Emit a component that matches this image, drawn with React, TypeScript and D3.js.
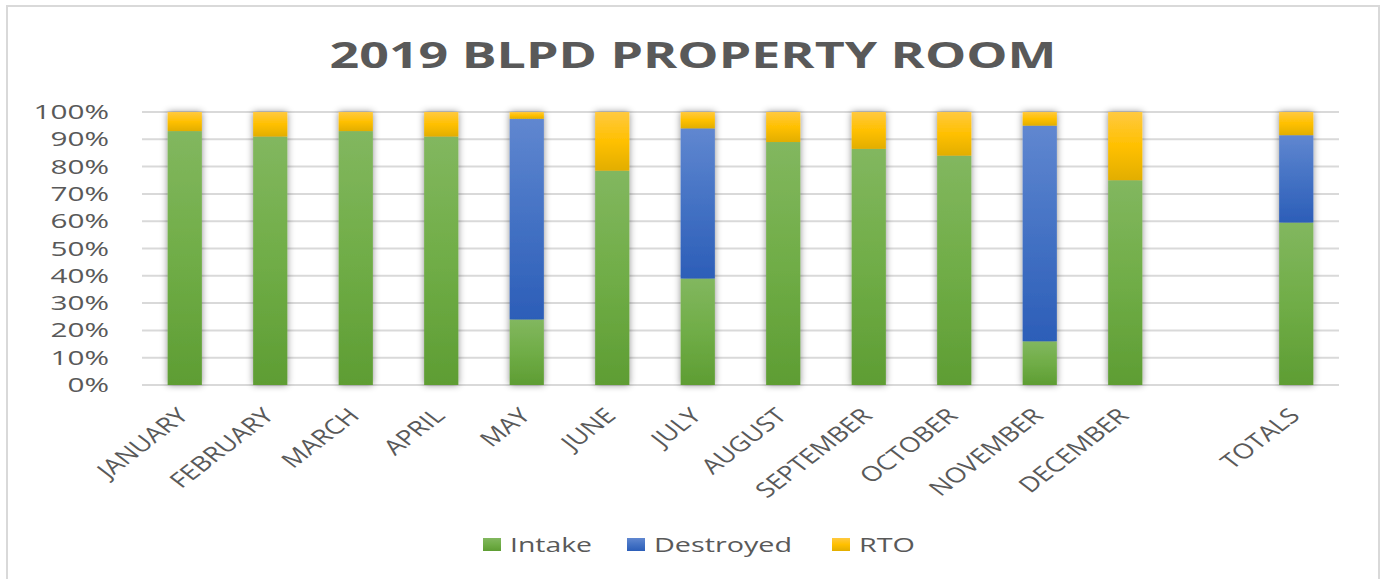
import React from 'react';
import * as d3 from 'd3';

const categories = ['JANUARY', 'FEBRUARY', 'MARCH', 'APRIL', 'MAY', 'JUNE', 'JULY', 'AUGUST', 'SEPTEMBER', 'OCTOBER', 'NOVEMBER', 'DECEMBER', '', 'TOTALS'];
const intake = [93, 91, 93, 91, 24, 78.5, 39, 89, 86.5, 84, 16, 75, 0, 59.5];
const destroyed = [0, 0, 0, 0, 73.5, 0, 55, 0, 0, 0, 79, 0, 0, 32];
const rto = [7, 9, 7, 9, 2.5, 21.5, 6, 11, 13.5, 16, 5, 25, 0, 8.5];
const yTicks = [0, 10, 20, 30, 40, 50, 60, 70, 80, 90, 100];
const seriesNames = ['Intake', 'Destroyed', 'RTO'];

const W = 1381;
const H = 579;
const TEXT = '#595959';
const FONT = '"Open Sans", sans-serif';

const grads: Record<string, [string, string, string]> = {
	Intake: ['#82b75f', '#70ad47', '#5e9d33'],
	Destroyed: ['#6087d0', '#4472c4', '#2c5eb8'],
	RTO: ['#ffc940', '#ffc000', '#e2ae00'],
};

// legend placement
const legend = [
	{ s: 'Intake', x: 483, len: 82 },
	{ s: 'Destroyed', x: 627, len: 138 },
	{ s: 'RTO', x: 832, len: 56 },
];

export default function App() {
	const rows = categories.map((c, i) => ({ cat: c, Intake: intake[i], Destroyed: destroyed[i], RTO: rto[i] }));
	const stack = d3.stack<any>().keys(seriesNames)(rows);

	const key = (i: number) => categories[i] || 'gap' + i;
	const x = d3.scaleBand().domain(categories.map((c, i) => key(i))).range([142, 1339]).paddingInner(0.6).paddingOuter(0.3);
	const y = d3.scaleLinear().domain([0, 100]).range([385, 112]);

	return (
		<svg width={W} height={H} style={{ position: 'absolute', left: 0, top: 0, background: '#fff' }}>
			<defs>
				{seriesNames.map(s => (
					<linearGradient key={s} id={'g-' + s} x1="0" y1="0" x2="0" y2="1">
						<stop offset="0" stopColor={grads[s][0]} />
						<stop offset="0.5" stopColor={grads[s][1]} />
						<stop offset="1" stopColor={grads[s][2]} />
					</linearGradient>
				))}
				<filter id="shadow" x="-40%" y="-5%" width="180%" height="110%">
					<feDropShadow dx="0" dy="0" stdDeviation="3.5" floodColor="#000" floodOpacity="0.45" />
				</filter>
			</defs>

			<rect x={7} y={6} width={1372} height={600} fill="#fff" stroke="#d9d9d9" strokeWidth={2} />

			<text x={693} y={68} textAnchor="middle" fontFamily={FONT} fontWeight="bold" fontSize={36} fill={TEXT} textLength={727} lengthAdjust="spacingAndGlyphs">
				2019 BLPD PROPERTY ROOM
			</text>

			{yTicks.map(t => (
				<g key={t}>
					<line x1={142} x2={1339} y1={y(t)} y2={y(t)} stroke="#d9d9d9" strokeWidth={2} />
					<text transform={`translate(109,${y(t) + 7}) scale(1.45,1)`} textAnchor="end" fontFamily={FONT} fontSize={20.5} fill={TEXT}>
						{t}%
					</text>
				</g>
			))}

			{categories.map((c, i) =>
				c ? (
					<g key={c} filter="url(#shadow)">
						{stack.map(layer => {
							const d = layer[i];
							if (d[1] - d[0] <= 0) return null;
							return <rect key={layer.key} x={x(key(i))} width={x.bandwidth()} y={y(d[1])} height={y(d[0]) - y(d[1])} fill={`url(#g-${layer.key})`} />;
						})}
					</g>
				) : null
			)}

			{categories.map((c, i) =>
				c ? (
					<text key={c} transform={`translate(${x(key(i))! + x.bandwidth() / 2 + 5},${417}) scale(1.3,1) rotate(-45)`} textAnchor="end" fontFamily={FONT} fontSize={21} fill={TEXT}>
						{c}
					</text>
				) : null
			)}

			{legend.map(l => (
				<g key={l.s}>
					<rect x={l.x} y={538} width={18} height={13} fill={`url(#g-${l.s})`} />
					<text x={l.x + 27} y={552} fontFamily={FONT} fontSize={20} fill={TEXT} textLength={l.len} lengthAdjust="spacingAndGlyphs">
						{l.s}
					</text>
				</g>
			))}
		</svg>
	);
}
